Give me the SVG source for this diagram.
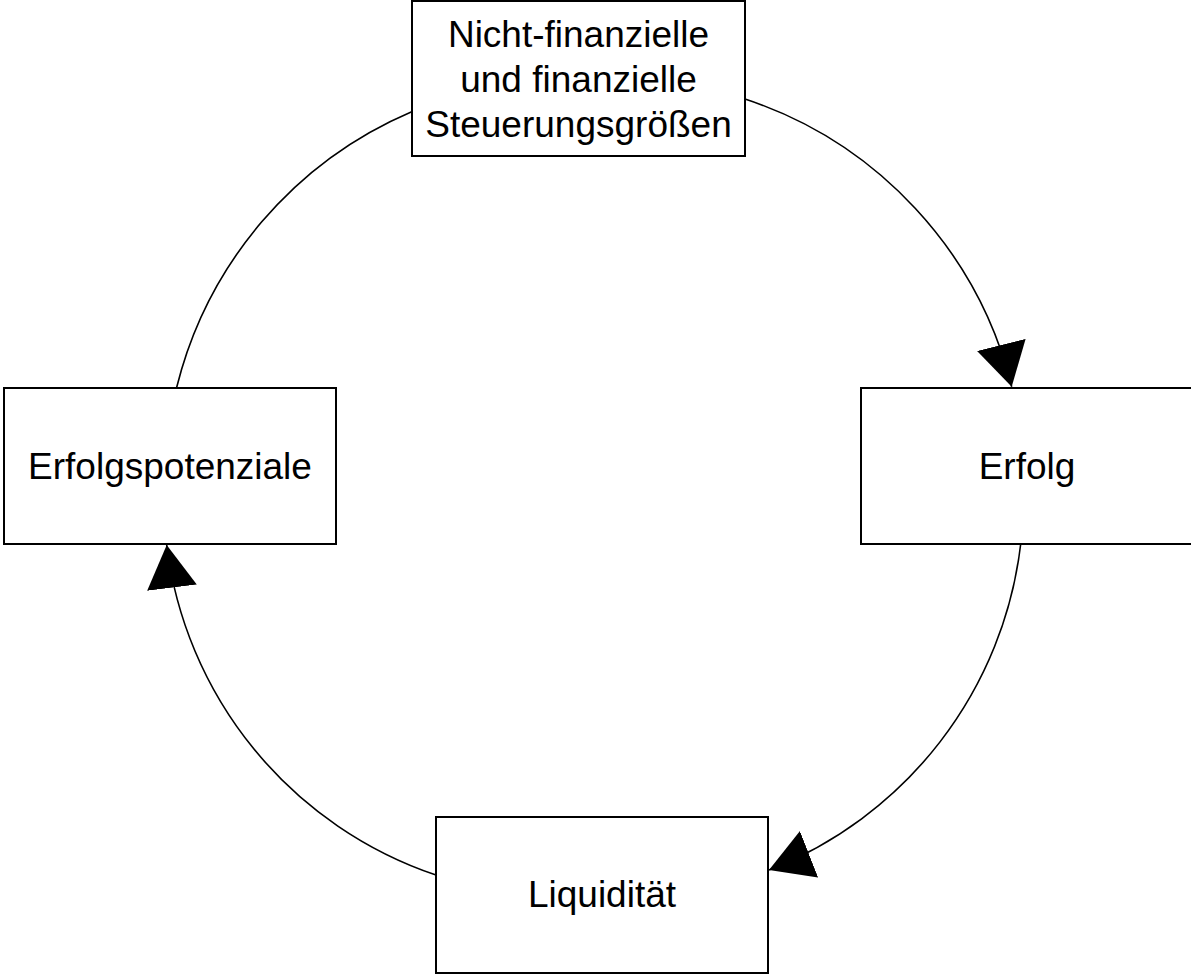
<svg xmlns="http://www.w3.org/2000/svg" width="1191" height="975" viewBox="0 0 1191 975">
  <style>
    .box { fill: #ffffff; stroke: #000000; stroke-width: 2; }
    .label { font-family: "Liberation Sans", Arial, sans-serif; font-size: 37px; fill: #000000; text-anchor: middle; }
    .arc { fill: none; stroke: #000000; stroke-width: 1.6; }
  </style>
  <defs>
    <marker id="arrow" viewBox="0 0 43 50" refX="43" refY="25" markerWidth="43" markerHeight="50" markerUnits="userSpaceOnUse" orient="auto">
      <path d="M0,0 L43,25 L0,50 Z" fill="#000000"/>
    </marker>
  </defs>
  <rect width="1191" height="975" fill="#ffffff"/>

  <!-- cycle connectors -->
  <g id="connectors">
    <path class="arc" d="M411.7,111.7 A406,406 0 0 0 176.7,387.3"/>
    <path class="arc" d="M745,99 A406,406 0 0 1 1011.7,386.7" marker-end="url(#arrow)"/>
    <path class="arc" d="M1020.7,544 A400,400 0 0 1 769,870" marker-end="url(#arrow)"/>
    <path class="arc" d="M436,875 A400,400 0 0 1 166.7,545" marker-end="url(#arrow)"/>
  </g>

  <g id="steuerungsgroessen">
    <rect class="box" x="412" y="1" width="333" height="155"/>
    <text class="label" x="578.5" y="47">Nicht-finanzielle</text>
    <text class="label" x="578.5" y="92">und finanzielle</text>
    <text class="label" x="578.5" y="137">Steuerungsgrößen</text>
  </g>

  <g id="erfolg">
    <rect class="box" x="861" y="388" width="332" height="156"/>
    <text class="label" x="1027" y="479">Erfolg</text>
  </g>

  <g id="liquiditaet">
    <rect class="box" x="436" y="817" width="332" height="156"/>
    <text class="label" x="602" y="907">Liquidität</text>
  </g>

  <g id="erfolgspotenziale">
    <rect class="box" x="4" y="388" width="332" height="156"/>
    <text class="label" x="170" y="479">Erfolgspotenziale</text>
  </g>
</svg>
